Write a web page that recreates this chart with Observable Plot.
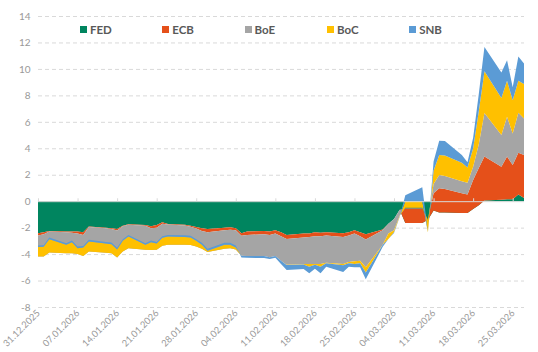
<!DOCTYPE html>
<html><head><meta charset="utf-8">
<script src="https://cdn.jsdelivr.net/npm/d3@7"></script>
<script src="https://cdn.jsdelivr.net/npm/@observablehq/plot@0.6"></script>
<style>
body{margin:0;background:#fff;font-family:Lato,"Open Sans",sans-serif;}
#wrap{position:relative;width:538px;height:352px;}
#legend{position:absolute;left:80px;top:22px;display:flex;}
.item{width:82.3px;height:14px;display:flex;align-items:center;font-weight:700;font-size:11.5px;color:#595959;}
.sw{width:7px;height:7px;margin-right:3px;}
</style></head><body><div id="wrap"><div id="legend"></div></div>
<script>
const dates = [
"2025-12-31","2026-01-01","2026-01-02",
"2026-01-05","2026-01-06","2026-01-07","2026-01-08","2026-01-09",
"2026-01-12","2026-01-13","2026-01-14","2026-01-15","2026-01-16",
"2026-01-19","2026-01-20","2026-01-21","2026-01-22","2026-01-23",
"2026-01-26","2026-01-27","2026-01-28","2026-01-29","2026-01-30",
"2026-02-02","2026-02-03","2026-02-04","2026-02-05","2026-02-06",
"2026-02-09","2026-02-10","2026-02-11","2026-02-12","2026-02-13",
"2026-02-16","2026-02-17","2026-02-18","2026-02-19","2026-02-20",
"2026-02-23","2026-02-24","2026-02-25","2026-02-26","2026-02-27",
"2026-03-02","2026-03-03","2026-03-04","2026-03-05","2026-03-06",
"2026-03-09","2026-03-10","2026-03-11","2026-03-12","2026-03-13",
"2026-03-16","2026-03-17","2026-03-18","2026-03-19","2026-03-20",
"2026-03-23","2026-03-24","2026-03-25","2026-03-26","2026-03-27"];

const fed = [-2.42,-2.35,-2.25, -2.29,-2.3,-2.3,-2.35,-1.92, -2.0,-2.05,-2.1,-1.85,-1.75,
 -1.8,-1.9,-1.8,-1.6,-1.72, -1.78,-1.85,-1.95,-2.05,-2.1, -2.0,-1.98,-2.05,-2.42,-2.3,
 -2.25,-2.3,-2.2,-2.35,-2.55, -2.45,-2.45,-2.35,-2.38,-2.35, -2.42,-2.35,-2.2,-2.35,-2.5,
 -2.15,-1.7,-1.35,-0.65,-1.65, -1.65,-1.4,-0.7,-0.86,-0.86, -0.9,-0.9,-0.6,-0.3,0.05,
 0.1,0.15,0.15,0.5,0.25];
const ecb = [-0.18,-0.15,-0.05, -0.05,-0.08,-0.15,-0.2,-0.03, -0.05,-0.05,-0.12,-0.05,-0.03,
 -0.05,-0.15,-0.2,-0.1,-0.05, -0.05,-0.08,-0.12,-0.2,-0.25, -0.2,-0.18,-0.15,-0.2,-0.25,
 -0.25,-0.25,-0.25,-0.3,-0.3, -0.3,-0.25,-0.3,-0.27,-0.25, -0.28,-0.25,-0.25,-0.3,-0.4,
 -0.05,0,0,0,1.1, 1.1,0,1.3,1.84,1.79, 1.5,1.4,2.2,2.8,3.32,
 2.51,3.22,2.59,3.17,3.24];
const boe = [-1.58,-1.68,-1.58, -1.59,-1.55,-1.55,-1.6,-1.85, -1.85,-1.83,-2.03,-1.9,-1.77,
 -1.82,-1.65,-1.67,-1.67,-1.53, -1.47,-1.39,-1.35,-1.35,-1.5, -1.4,-1.39,-1.45,-1.5,-1.6,
 -1.65,-1.68,-1.7,-1.85,-1.95, -2.0,-2.05,-2.1,-2.1,-2.05, -2.05,-2.0,-2.1,-1.85,-2.1,
 -1.1,-0.75,-0.85,-0.45,0.05, 0.05,-0.05,0.7,1.0,0.97, 0.9,0.9,1.0,1.8,3.3,
 2.39,3.02,2.38,3.02,2.77];
const boc = [0.71,0.73,1.01, 0.63,0.83,0.45,0.65,0.75, 0.7,0.68,0.6,0.8,0.88,
 0.37,0.6,0.47,0.6,0.63, 0.6,0.57,0.42,0.3,0.1, 0.3,0.25,0.15,0,0,
 0,0,0,0,-0.02, -0.03,-0.2,-0.05,-0.2,-0.05, -0.1,-0.1,-0.2,-0.2,-0.4,
 0,-0.4,-0.15,-0.05,0.5, 0.5,-0.9,1.0,1.52,1.55, 1.4,1.15,1.4,2.5,3.15,
 2.8,2.71,2.52,2.41,2.59];
const snb = [0.12,0.12,0.12, 0.12,0.12,0.12,0.12,0.13, 0.12,0.12,0.13,0.12,0.12,
 0.12,0.12,0.12,0.12,0.12, 0.12,0.13,0.13,0.15,0.15, 0.15,0.15,0.15,-0.13,-0.13,
 -0.15,-0.15,-0.13,-0.25,-0.38, -0.34,-0.5,-0.3,-0.5,-0.25, -0.5,-0.25,-0.25,-0.3,-0.5,
 -0.15,0,-0.05,-0.05,0.45, 1.05,0,0.7,1.07,1.1, 0.6,0.4,0.8,1.3,1.83,
 1.92,1.56,0.98,1.83,1.55];

const seriesNames = ["FED","ECB","BoE","BoC","SNB"];
const seriesValues = [fed, ecb, boe, boc, snb];
const colors = ["#00855F","#E5501A","#A5A5A5","#FFC000","#5B9BD5"];
const yTicks = [-8,-6,-4,-2,0,2,4,6,8,10,12,14];
const xTicks = ["2025-12-31","2026-01-07","2026-01-14","2026-01-21","2026-01-28","2026-02-04",
 "2026-02-11","2026-02-18","2026-02-25","2026-03-04","2026-03-11","2026-03-18","2026-03-25"];

// Excel-style cumulative stacking: each series fills between previous and own running total
const rows = [];
const cum = dates.map(() => 0);
seriesNames.forEach((name, k) => {
  seriesValues[k].forEach((v, i) => {
    rows.push({series: name, date: new Date(dates[i]), y1: cum[i], y2: cum[i] + v});
    cum[i] += v;
  });
});
const xTickDates = xTicks.map(d => new Date(d));

const chart = Plot.plot({
  width: 538, height: 352,
  marginLeft: 38, marginRight: 14, marginTop: 16, marginBottom: 45,
  style: {fontFamily: "Lato, 'Open Sans', sans-serif", fontSize: "10px", color: "#999999", background: "white"},
  x: {type: "utc", domain: [new Date(dates[0]), new Date(dates[dates.length - 1])]},
  y: {domain: [-8, 14]},
  color: {domain: seriesNames, range: colors},
  marks: [
    Plot.ruleY(yTicks.filter(v => v !== 0), {stroke: "#d9d9d9", strokeDasharray: "4,3"}),
    Plot.areaY(rows, {x: "date", y1: "y1", y2: "y2", z: "series", fill: "series"}),
    Plot.ruleY([0], {stroke: "#d9d9d9"}),
    Plot.ruleX(xTickDates, {y1: 0, y2: 0.22, stroke: "#d9d9d9"}),
    Plot.axisY({ticks: yTicks, tickSize: 0, tickPadding: 8, tickFormat: d => String(d), label: null, fontSize: 10}),
    Plot.axisX({ticks: xTickDates, tickSize: 0, tickPadding: 4, tickRotate: -45, tickFormat: d3.utcFormat("%d.%m.%Y"), label: null, fontSize: 9.3})
  ]
});
const wrap = document.getElementById("wrap");
wrap.insertBefore(chart, wrap.firstChild);

const legend = document.getElementById("legend");
seriesNames.forEach((name, k) => {
  const item = document.createElement("div");
  item.className = "item";
  const sw = document.createElement("span");
  sw.className = "sw";
  sw.style.background = colors[k];
  item.appendChild(sw);
  item.appendChild(document.createTextNode(name));
  legend.appendChild(item);
});
</script>
</body></html>
